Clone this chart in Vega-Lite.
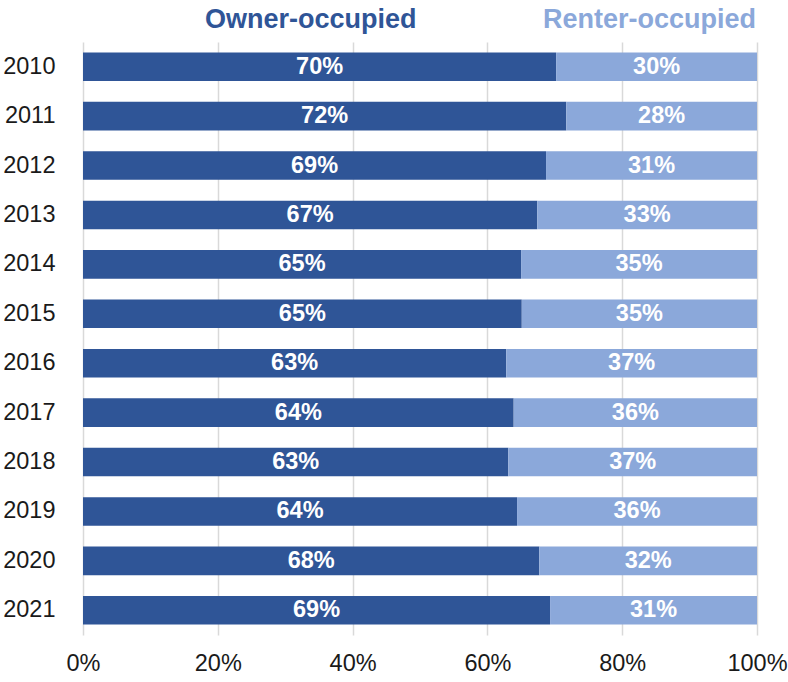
{
  "$schema": "https://vega.github.io/schema/vega-lite/v6.json",
  "width": 674,
  "height": 593,
  "autosize": {"type": "none"},
  "padding": {"left": 83, "top": 42, "right": 31, "bottom": 47},
  "background": "white",
  "config": {
    "view": {"stroke": null},
    "font": "Liberation Sans, Arial, sans-serif"
  },
  "data": {
    "values": [
      {"year": "2010", "type": "Owner-occupied", "value": 0.702},
      {"year": "2010", "type": "Renter-occupied", "value": 0.298},
      {"year": "2011", "type": "Owner-occupied", "value": 0.717},
      {"year": "2011", "type": "Renter-occupied", "value": 0.283},
      {"year": "2012", "type": "Owner-occupied", "value": 0.687},
      {"year": "2012", "type": "Renter-occupied", "value": 0.313},
      {"year": "2013", "type": "Owner-occupied", "value": 0.674},
      {"year": "2013", "type": "Renter-occupied", "value": 0.326},
      {"year": "2014", "type": "Owner-occupied", "value": 0.650},
      {"year": "2014", "type": "Renter-occupied", "value": 0.350},
      {"year": "2015", "type": "Owner-occupied", "value": 0.651},
      {"year": "2015", "type": "Renter-occupied", "value": 0.349},
      {"year": "2016", "type": "Owner-occupied", "value": 0.628},
      {"year": "2016", "type": "Renter-occupied", "value": 0.372},
      {"year": "2017", "type": "Owner-occupied", "value": 0.639},
      {"year": "2017", "type": "Renter-occupied", "value": 0.361},
      {"year": "2018", "type": "Owner-occupied", "value": 0.631},
      {"year": "2018", "type": "Renter-occupied", "value": 0.369},
      {"year": "2019", "type": "Owner-occupied", "value": 0.644},
      {"year": "2019", "type": "Renter-occupied", "value": 0.356},
      {"year": "2020", "type": "Owner-occupied", "value": 0.677},
      {"year": "2020", "type": "Renter-occupied", "value": 0.323},
      {"year": "2021", "type": "Owner-occupied", "value": 0.693},
      {"year": "2021", "type": "Renter-occupied", "value": 0.307}
    ]
  },
  "transform": [
    {"stack": "value", "groupby": ["year"], "sort": [{"field": "type", "order": "ascending"}], "offset": "normalize", "as": ["x0", "x1"]},
    {"calculate": "(datum.x0 + datum.x1) / 2", "as": "xmid"}
  ],
  "encoding": {
    "y": {
      "field": "year",
      "type": "ordinal",
      "sort": "ascending",
      "scale": {"paddingInner": 0.42, "paddingOuter": 0.21},
      "axis": {
        "title": null,
        "domain": false,
        "ticks": false,
        "labelFontSize": 23.5,
        "labelColor": "#1a1a1a",
        "labelPadding": 28
      }
    }
  },
  "layer": [
    {
      "mark": {"type": "bar"},
      "encoding": {
        "x": {
          "field": "x0",
          "type": "quantitative",
          "scale": {"domain": [0, 1], "nice": false},
          "axis": {
            "title": null,
            "format": ".0%",
            "values": [0, 0.2, 0.4, 0.6, 0.8, 1],
            "domain": false,
            "ticks": false,
            "grid": true,
            "gridColor": "#D9D9D9",
            "gridWidth": 1.5,
            "labelFlush": false,
            "labelFontSize": 23.5,
            "labelColor": "#1a1a1a",
            "labelPadding": 16
          }
        },
        "x2": {"field": "x1"},
        "color": {
          "field": "type",
          "type": "nominal",
          "scale": {"domain": ["Owner-occupied", "Renter-occupied"], "range": ["#2F5597", "#8BA8DA"]},
          "legend": {
            "title": null,
            "orient": "none",
            "direction": "horizontal",
            "legendX": 95,
            "legendY": -36,
            "symbolSize": 0,
            "symbolStrokeWidth": 0,
            "symbolOpacity": 0,
            "labelOffset": 0,
            "columnPadding": 99,
            "labelFontSize": 27,
            "labelFontWeight": "bold",
            "labelLimit": 400,
            "encode": {
              "labels": {
                "update": {
                  "fill": {"signal": "datum.value === 'Owner-occupied' ? '#2F5597' : '#8BA8DA'"}
                }
              }
            }
          }
        }
      }
    },
    {
      "mark": {"type": "text", "color": "white", "fontWeight": "bold", "fontSize": 23.5, "baseline": "middle"},
      "encoding": {
        "x": {"field": "xmid", "type": "quantitative"},
        "text": {"field": "value", "type": "quantitative", "format": ".0%"}
      }
    }
  ]
}
